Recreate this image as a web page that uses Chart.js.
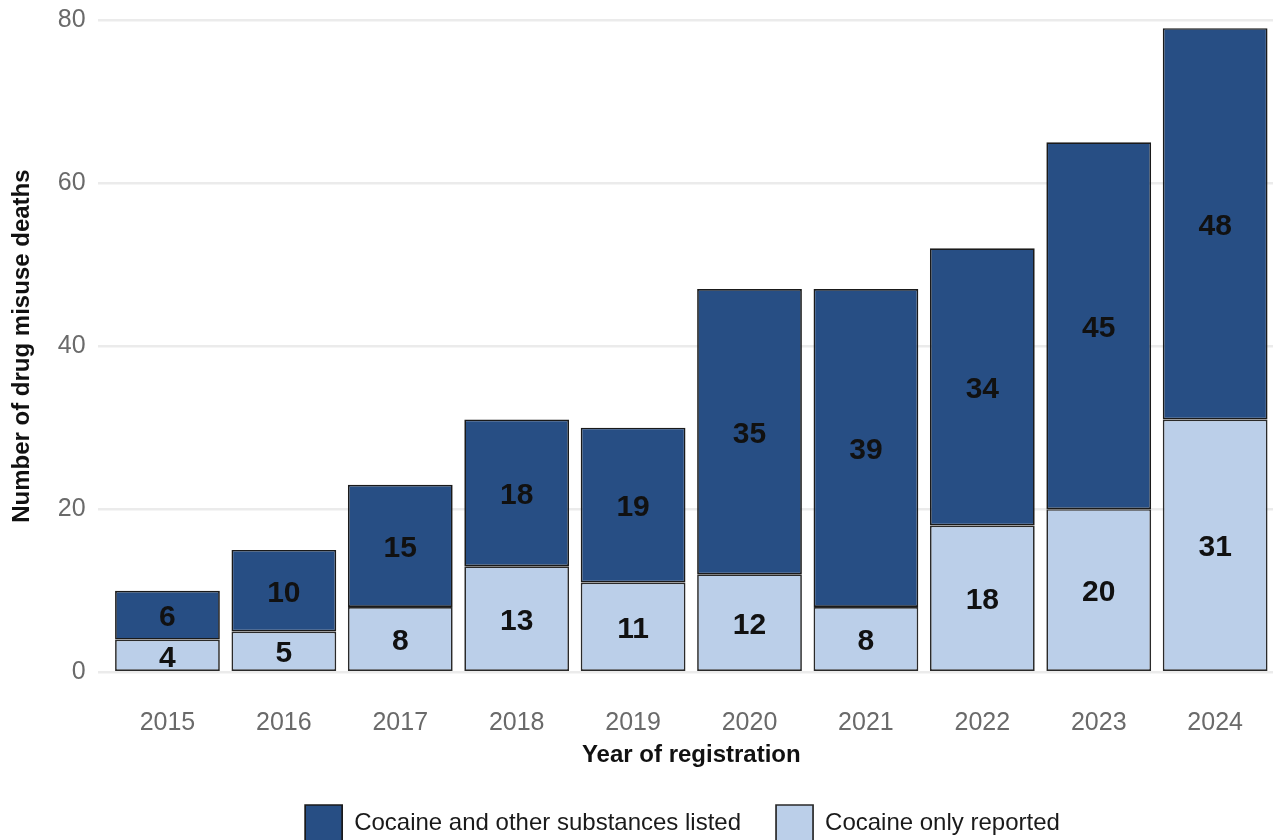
<!DOCTYPE html>
<html>
<head>
<meta charset="utf-8">
<script src="https://cdn.jsdelivr.net/npm/chart.js@4"></script>
<style>
  html, body { margin: 0; padding: 0; background: #ffffff; overflow: hidden; width: 1273px; height: 840px; }
  #wrap { position: absolute; left: 0; top: 0; width: 1300px; height: 852px; }
</style>
</head>
<body>
<div id="wrap"><canvas id="c" width="1300" height="852"></canvas></div>
<script>
const years = ['2015', '2016', '2017', '2018', '2019', '2020', '2021', '2022', '2023', '2024'];
const cocaineOnly = [4, 5, 8, 13, 11, 12, 8, 18, 20, 31];
const cocaineAndOther = [6, 10, 15, 18, 19, 35, 39, 34, 45, 48];
const yTicks = [0, 20, 40, 60, 80];
const seriesNames = ['Cocaine only reported', 'Cocaine and other substances listed'];

const FONT = "'Liberation Sans', Arial, sans-serif";

const toPoints = arr => arr.map((v, i) => ({ x: i, y: v }));

const valueLabels = {
  id: 'valueLabels',
  afterDatasetsDraw(chart) {
    const ctx = chart.ctx;
    ctx.save();
    ctx.font = 'bold 30px ' + FONT;
    ctx.fillStyle = '#111111';
    ctx.textAlign = 'center';
    ctx.textBaseline = 'middle';
    chart.data.datasets.forEach((ds, di) => {
      const meta = chart.getDatasetMeta(di);
      meta.data.forEach((bar, i) => {
        const v = ds.data[i].y;
        const cy = (bar.y + bar.base) / 2 + 3;
        ctx.fillText(String(v), bar.x, cy);
      });
    });
    ctx.restore();
  }
};

// centre the legend under the plot the way the original does
const legendShift = {
  id: 'legendShift',
  afterLayout(chart) {
    const lg = chart.legend;
    if (lg) { lg.left += 40; lg.right += 40; }
  }
};

new Chart(document.getElementById('c'), {
  type: 'bar',
  data: {
    datasets: [
      {
        label: seriesNames[0],
        data: toPoints(cocaineOnly),
        backgroundColor: '#bbcfe9',
        borderColor: '#2a2a2a',
        borderWidth: 1.7,
        borderSkipped: false
      },
      {
        label: seriesNames[1],
        data: toPoints(cocaineAndOther),
        backgroundColor: '#274e84',
        borderColor: '#1a1a1a',
        borderWidth: 1.7,
        borderSkipped: false
      }
    ]
  },
  plugins: [valueLabels, legendShift],
  options: {
    responsive: false,
    animation: false,
    events: [],
    datasets: { bar: { categoryPercentage: 1, barPercentage: 0.9 } },
    layout: { padding: { top: 20, right: 15, left: 0, bottom: 0 } },
    plugins: {
      legend: {
        position: 'bottom',
        reverse: true,
        labels: {
          boxWidth: 37,
          boxHeight: 37,
          padding: 35,
          color: '#1a1a1a',
          font: { family: FONT, size: 24 }
        }
      },
      tooltip: { enabled: false }
    },
    scales: {
      x: {
        type: 'linear',
        stacked: true,
        offset: false,
        min: -0.6,
        max: years.length - 1 + 0.6,
        afterBuildTicks: axis => { axis.ticks = years.map((y, i) => ({ value: i })); },
        grid: { display: false, drawTicks: false, offset: false },
        border: { display: false },
        ticks: {
          padding: 36,
          color: '#6a6a6a',
          font: { family: FONT, size: 25 },
          maxRotation: 0,
          autoSkip: false,
          callback: v => years[v]
        },
        title: {
          display: true,
          text: 'Year of registration',
          color: '#111111',
          font: { family: FONT, size: 24, weight: 'bold' },
          padding: { top: -33, bottom: 0 }
        }
      },
      y: {
        stacked: true,
        min: 0,
        max: 80,
        afterBuildTicks: axis => { axis.ticks = yTicks.map(v => ({ value: v })); },
        grid: { color: '#ebebeb', lineWidth: 2.5, drawTicks: false },
        border: { display: false },
        ticks: {
          padding: 12,
          color: '#6a6a6a',
          font: { family: FONT, size: 25, lineHeight: 0.6 }
        },
        title: {
          display: true,
          text: 'Number of drug misuse deaths',
          color: '#111111',
          font: { family: FONT, size: 24, weight: 'bold' },
          padding: { top: 8, bottom: 9 }
        }
      }
    }
  }
});
</script>
</body>
</html>
